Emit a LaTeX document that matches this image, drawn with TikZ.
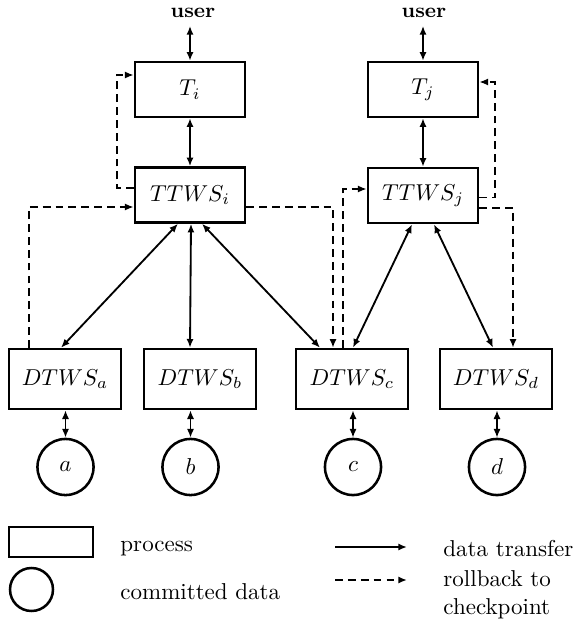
\documentclass[tikz,border=0pt]{standalone}
\usetikzlibrary{calc,arrows.meta}

\tikzset{
  proc/.style={draw, line width=1.1pt, minimum width=47.9pt, minimum height=23.9pt, inner sep=0pt},
  dproc/.style={proc, minimum width=48.7pt, minimum height=26.1pt},
  store/.style={draw, circle, line width=1.1pt, minimum size=24.4pt, inner sep=0pt},
  transfer/.style={line width=0.8pt},
  rollback/.style={line width=0.8pt, dash pattern=on 3.4pt off 2.2pt, ->},
}

\begin{document}
\begin{tikzpicture}[x=0.435pt, y=-0.435pt, >={Latex[length=3.8pt,width=3.1pt]}]
            \useasboundingbox (0,0) rectangle (577,623);

            % Users
            \node[font=\small\bfseries] (ui) at (193,13) {user};
            \node[font=\small\bfseries] (uj) at (424,13) {user};

            % Transactions
            \node[proc] (ti) at (190,89.5) {$T_i$};
            \node[proc] (tj) at (423,89.5) {$T_j$};
            \node[proc] (ttwsi) at (190,195) {$TTWS_i$};
            \node[proc] (ttwsj) at (423,195.5) {$TTWS_j$};

            % Data sites
            \node[dproc] (dtwsa) at (65,379) {$DTWS_a$};
            \node[dproc] (dtwsb) at (200,379) {$DTWS_b$};
            \node[dproc] (dtwsc) at (352,379) {$DTWS_c$};
            \node[dproc] (dtwsd) at (496,379) {$DTWS_d$};

            % Committed data
            \node[store] (da) at (65.5,467) {$a$};
            \node[store] (db) at (190.5,467) {$b$};
            \node[store] (dc) at (353,467) {$c$};
            \node[store] (dd) at (497,467) {$d$};

            % Data transfer
            \draw[transfer, <->] (ti.north |- ui.south) -- (ti.north);
            \draw[transfer, <->] (tj.north |- uj.south) -- (tj.north);
            \draw[transfer, <->] (ti) -- (ttwsi);
            \draw[transfer, <->] (tj) -- (ttwsj);
            \draw[transfer, <->] ($(ttwsi.south)+(-12,0)$) -- ($(dtwsa.north)+(-4,0)$);
            \draw[transfer, <->] ($(ttwsi.south)+(1,0)$) -- ($(dtwsb.north)+(-10,0)$);
            \draw[transfer, <->] ($(ttwsi.south)+(12,0)$) -- ($(dtwsc.north)+(-32,0)$);
            \draw[transfer, <->] ($(ttwsj.south)+(-11,0)$) -- ($(dtwsc.north)+(1,0)$);
            \draw[transfer, <->] ($(ttwsj.south)+(11,0)$) -- ($(dtwsd.north)+(-3,0)$);
            \draw[transfer, <->] (dtwsa.south -| da.north) -- (da.north);
            \draw[transfer, <->] (dtwsb.south -| db.north) -- (db.north);
            \draw[transfer, <->] (dtwsc.south -| dc.north) -- (dc.north);
            \draw[transfer, <->] (dtwsd.south -| dd.north) -- (dd.north);

            % Rollback
            \draw[rollback] ($(dtwsa.north)+(-36,0)$) |- ($(ttwsi.west)+(0,12)$);
            \draw[rollback] ($(ttwsi.west)+(0,-7)$) -- ++(-17,0) |- ($(ti.west)+(0,-14.5)$);
            \draw[rollback] ($(ttwsi.east)+(0,12)$) -| ($(dtwsc.north)+(-19,0)$);
            \draw[rollback] ($(dtwsc.north)+(-9,0)$) |- ($(ttwsj.west)+(0,-6.5)$);
            \draw[rollback] ($(ttwsj.east)+(0,2)$) -- ++(16,0) |- ($(tj.east)+(0,-7.5)$);
            \draw[rollback] ($(ttwsj.east)+(0,12.5)$) -| ($(dtwsd.north)+(17,0)$);

            % Legend
            \node[draw, line width=1.1pt, minimum width=36.5pt, minimum height=13pt, inner sep=0pt] (lproc) at (51,542) {};
            \node[draw, circle, line width=1.1pt, minimum size=18.7pt, inner sep=0pt] (lstore) at (31.5,589.5) {};
            \node[anchor=west, inner sep=0pt] (tproc) at (120,549) {process};
            \node[anchor=west, inner sep=0pt] (tstore) at (120,592) {committed data};
            \coordinate (ls1) at (335,547);
            \coordinate (le1) at (407,547);
            \coordinate (ls2) at (335,580);
            \coordinate (le2) at (407,580);
            \draw[transfer, ->] (ls1) -- (le1);
            \draw[rollback] (ls2) -- (le2);
            \node[anchor=west, inner sep=0pt] (ttrans) at (443,549) {data transfer};
            \node[anchor=west, inner sep=0pt, align=left] (troll) at (443,595) {rollback to\\checkpoint};

        \end{tikzpicture}
\end{document}
